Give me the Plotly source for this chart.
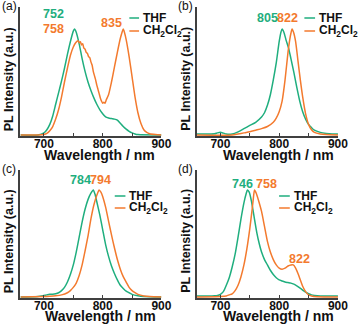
import plotly.graph_objects as go

W, H = 363, 326
GREEN = "#1fae7e"
ORANGE = "#f37a2e"
AXIS = "#404040"
FONT = "Liberation Sans, Arial, sans-serif"

# ---------------- spectra (normalised PL intensity) ----------------
# (a)
a_thf_nm = [660, 690, 700, 705, 710, 715, 720, 725, 730, 735, 740, 745, 750, 752, 755, 760,
            765, 770, 775, 780, 785, 790, 795, 800, 805, 810, 815, 820, 825, 830, 835, 840,
            845, 850, 855, 860, 900]
a_thf = [0.0, 0.0, 0.02, 0.05, 0.10, 0.18, 0.29, 0.40, 0.51, 0.63, 0.76, 0.88, 0.98, 1.0, 0.97, 0.86,
         0.72, 0.60, 0.50, 0.42, 0.35, 0.29, 0.24, 0.20, 0.17, 0.16, 0.155, 0.15, 0.14, 0.11, 0.08, 0.055,
         0.035, 0.02, 0.01, 0.004, 0.0]
a_dcm_nm = [660, 690, 700, 705, 710, 715, 720, 725, 730, 735, 740, 745, 750, 754, 758, 760,
            762, 764, 766, 768, 770, 772, 774, 776, 778, 780, 782, 784, 786, 788, 790, 792,
            794, 796, 798, 800, 802, 804, 806, 810, 815, 820, 825, 830, 833, 835, 837, 840,
            845, 850, 855, 860, 865, 870, 875, 880, 890, 900]
a_dcm = [0.0, 0.0, 0.005, 0.015, 0.04, 0.08, 0.15, 0.24, 0.36, 0.50, 0.63, 0.75, 0.83, 0.87, 0.89, 0.87,
         0.88, 0.85, 0.86, 0.82, 0.81, 0.78, 0.77, 0.74, 0.73, 0.69, 0.66, 0.60, 0.56, 0.52, 0.47, 0.43,
         0.39, 0.35, 0.32, 0.30, 0.31, 0.30, 0.33, 0.38, 0.50, 0.64, 0.78, 0.91, 0.97, 1.0, 0.97, 0.90,
         0.74, 0.55, 0.36, 0.21, 0.11, 0.05, 0.025, 0.012, 0.004, 0.0]

# (b)
b_thf_nm = [660, 680, 690, 695, 700, 705, 710, 720, 730, 740, 750, 760, 770, 775, 780, 785,
            790, 795, 800, 803, 805, 808, 812, 816, 820, 825, 830, 835, 840, 845, 850, 855,
            860, 870, 880, 890, 900]
b_thf = [0.01, 0.01, 0.012, 0.02, 0.025, 0.018, 0.01, 0.01, 0.03, 0.06, 0.09, 0.12, 0.17, 0.21, 0.28, 0.38,
         0.52, 0.68, 0.88, 0.97, 1.0, 0.97, 0.89, 0.82, 0.72, 0.59, 0.45, 0.32, 0.22, 0.15, 0.10, 0.07,
         0.045, 0.025, 0.015, 0.01, 0.01]
b_dcm_nm = [660, 720, 730, 740, 750, 760, 770, 780, 790, 795, 800, 805, 810, 815, 818, 820,
            822, 825, 828, 832, 836, 840, 845, 850, 855, 860, 870, 880, 900]
b_dcm = [0.0, 0.0, 0.01, 0.02, 0.03, 0.045, 0.06, 0.08, 0.12, 0.16, 0.22, 0.32, 0.52, 0.78, 0.90, 0.96,
         1.0, 0.96, 0.88, 0.70, 0.52, 0.36, 0.20, 0.10, 0.05, 0.025, 0.01, 0.004, 0.0]

# (c)
c_thf_nm = [660, 690, 700, 705, 710, 715, 720, 725, 730, 735, 740, 745, 750, 755, 760, 765,
            770, 775, 780, 784, 787, 790, 795, 800, 805, 810, 815, 820, 825, 830, 835, 840,
            845, 850, 860, 870, 900]
c_thf = [0.0, 0.005, 0.015, 0.02, 0.025, 0.025, 0.03, 0.04, 0.06, 0.09, 0.14, 0.21, 0.30, 0.42, 0.56, 0.70,
         0.82, 0.91, 0.97, 1.0, 0.96, 0.89, 0.77, 0.63, 0.49, 0.38, 0.29, 0.22, 0.16, 0.11, 0.08, 0.055,
         0.04, 0.025, 0.012, 0.005, 0.0]
c_dcm_nm = [660, 700, 710, 720, 730, 740, 745, 750, 755, 760, 765, 770, 775, 780, 785, 790,
            794, 797, 800, 805, 810, 815, 820, 825, 830, 835, 840, 845, 850, 855, 860, 870,
            880, 900]
c_dcm = [0.0, 0.005, 0.008, 0.012, 0.02, 0.04, 0.06, 0.09, 0.13, 0.20, 0.30, 0.43, 0.57, 0.73, 0.86, 0.95,
         1.0, 0.98, 0.94, 0.84, 0.71, 0.58, 0.46, 0.35, 0.26, 0.19, 0.14, 0.09, 0.06, 0.04, 0.025, 0.01,
         0.004, 0.0]

# (d)
d_thf_nm = [660, 680, 690, 695, 700, 705, 710, 715, 720, 725, 730, 735, 740, 744, 746, 749,
            753, 757, 762, 766, 770, 775, 780, 785, 790, 795, 800, 805, 810, 815, 820, 825,
            830, 835, 840, 845, 850, 855, 860, 870, 900]
d_thf = [0.01, 0.01, 0.012, 0.015, 0.025, 0.05, 0.11, 0.18, 0.28, 0.40, 0.56, 0.73, 0.88, 0.97, 1.0, 0.98,
         0.89, 0.76, 0.60, 0.50, 0.42, 0.35, 0.30, 0.25, 0.21, 0.18, 0.16, 0.15, 0.14, 0.135, 0.13, 0.12,
         0.105, 0.085, 0.065, 0.045, 0.03, 0.02, 0.015, 0.01, 0.01]
d_dcm_nm = [660, 700, 710, 715, 720, 725, 730, 735, 740, 745, 750, 754, 756, 758, 761, 765,
            770, 775, 780, 785, 790, 795, 800, 805, 810, 815, 820, 824, 828, 832, 836, 840,
            845, 850, 855, 865, 900]
d_dcm = [0.0, 0.005, 0.01, 0.02, 0.03, 0.06, 0.11, 0.19, 0.30, 0.45, 0.64, 0.82, 0.92, 1.0, 0.97, 0.90,
         0.80, 0.66, 0.52, 0.42, 0.35, 0.30, 0.27, 0.26, 0.27, 0.29, 0.30, 0.30, 0.27, 0.22, 0.16, 0.10,
         0.05, 0.02, 0.01, 0.003, 0.0]

panel_tags = ["(a)", "(b)", "(c)", "(d)"]
series = [
    (a_thf_nm, a_thf, a_dcm_nm, a_dcm),
    (b_thf_nm, b_thf, b_dcm_nm, b_dcm),
    (c_thf_nm, c_thf, c_dcm_nm, c_dcm),
    (d_thf_nm, d_thf, d_dcm_nm, d_dcm),
]
# peak labels per panel: (text, solvent)
peak_labels = [
    [("752", "THF"), ("758", "DCM"), ("835", "DCM")],
    [("805", "THF"), ("822", "DCM")],
    [("784", "THF"), ("794", "DCM")],
    [("746", "THF"), ("758", "DCM"), ("822", "DCM")],
]
x_ticks = [700, 750, 800, 850, 900]
x_tick_text = ["700", "", "800", "", "900"]
x_range = [660, 900]
solvents = ["THF", "CH<sub>2</sub>Cl<sub>2</sub>"]

# ---------------- layout helpers (pixel -> paper) ----------------
def px(x):
    return x / W


def py(y):
    return 1 - y / H


col_x = [(21, 166), (202.5, 347.5)]
row_y = [(7, 136), (170, 298)]
y_ranges = [[-0.0094, 1.2075], [-0.0093, 1.187]]

# label placements in pixels, per panel
peak_pos = [
    [(55, 14), (55, 28.5), (114.5, 23)],
    [(275, 17.5), (296, 17.5)],
    [(83, 180), (103.5, 180)],
    [(249.5, 184), (274, 184), (308, 259)],
]
legend_pos = [  # line x0, x1, text x, y THF, y CH2Cl2
    (133, 143, 145, 18, 31),
    (313, 324, 326, 18, 31),
    (118, 129, 131, 196, 208),
    (287, 298, 300, 196, 208),
]
xtitle_pos = [(102, 154.5), (286, 154.5), (103, 316), (286, 316)]
ytitle_pos = [(9.5, 79), (191, 79), (9.5, 241), (191, 241)]
tag_pos = [(0, 6), (181, 6), (0, 169), (181, 169)]

fig = go.Figure()
annotations = []
shapes = []
layout_axes = {}

for i, (tx, ty, dx, dy) in enumerate(series):
    r, c = divmod(i, 2)
    sfx = "" if i == 0 else str(i + 1)
    xa, ya = "x" + sfx, "y" + sfx
    fig.add_trace(go.Scatter(x=tx, y=ty, xaxis=xa, yaxis=ya, mode="lines",
                             line=dict(color=GREEN, width=1.5, shape="spline", smoothing=0.6),
                             showlegend=False, hoverinfo="skip"))
    fig.add_trace(go.Scatter(x=dx, y=dy, xaxis=xa, yaxis=ya, mode="lines",
                             line=dict(color=ORANGE, width=1.5, shape="spline", smoothing=0.6),
                             showlegend=False, hoverinfo="skip"))
    x0, x1 = col_x[c]
    y0, y1 = row_y[r]
    layout_axes["xaxis" + sfx] = dict(
        domain=[px(x0), px(x1)], anchor=ya, range=x_range, showline=True,
        linecolor=AXIS, linewidth=1.5, ticks="inside", ticklen=3, tickwidth=1,
        tickcolor=AXIS, tickvals=x_ticks, ticktext=x_tick_text, showgrid=False,
        zeroline=False, ticklabelstandoff=-4,
        tickfont=dict(family=FONT, size=12, color="#111", weight="bold"),
        fixedrange=True)
    layout_axes["yaxis" + sfx] = dict(
        domain=[py(y1), py(y0)], anchor=xa, range=y_ranges[r], showline=True,
        linecolor=AXIS, linewidth=1.5, showticklabels=False, ticks="",
        showgrid=False, zeroline=False, fixedrange=True)

    # peak labels
    for (txt, solv), (lx, ly) in zip(peak_labels[i], peak_pos[i]):
        annotations.append(dict(text=txt, x=px(lx), y=py(ly), xref="paper", yref="paper",
                                showarrow=False, xanchor="center", yanchor="middle",
                                font=dict(family=FONT, size=12.5, weight="bold",
                                          color=GREEN if solv == "THF" else ORANGE)))
    # legend
    lx0, lx1, ltx, ly_t, ly_d = legend_pos[i]
    for name, color, yy in ((solvents[0], GREEN, ly_t), (solvents[1], ORANGE, ly_d)):
        shapes.append(dict(type="line", xref="paper", yref="paper",
                           x0=px(lx0), x1=px(lx1), y0=py(yy), y1=py(yy),
                           line=dict(color=color, width=1.5)))
        annotations.append(dict(text=name, x=px(ltx), y=py(yy), xref="paper", yref="paper",
                                showarrow=False, xanchor="left", yanchor="middle",
                                font=dict(family=FONT, size=12, weight="bold", color="#111")))
    # axis titles
    xt, yt = xtitle_pos[i]
    annotations.append(dict(text="Wavelength / nm", x=px(xt), y=py(yt), xref="paper",
                            yref="paper", showarrow=False, xanchor="center", yanchor="middle",
                            font=dict(family=FONT, size=14, weight="bold", color="#111")))
    xt, yt = ytitle_pos[i]
    annotations.append(dict(text="PL Intensity (a.u.)", x=px(xt), y=py(yt), xref="paper",
                            yref="paper", showarrow=False, xanchor="center", yanchor="middle",
                            textangle=-90,
                            font=dict(family=FONT, size=12.5, weight="bold", color="#111")))
    # panel tag
    xt, yt = tag_pos[i]
    annotations.append(dict(text=panel_tags[i], x=px(xt), y=py(yt), xref="paper",
                            yref="paper", showarrow=False, xanchor="left", yanchor="middle",
                            font=dict(family=FONT, size=12, color="#111")))

fig.update_layout(
    width=W, height=H, margin=dict(l=0, r=0, t=0, b=0),
    paper_bgcolor="white", plot_bgcolor="white",
    annotations=annotations, shapes=shapes, showlegend=False,
    **layout_axes,
)
fig.write_html("out.html", config={"displayModeBar": False})
